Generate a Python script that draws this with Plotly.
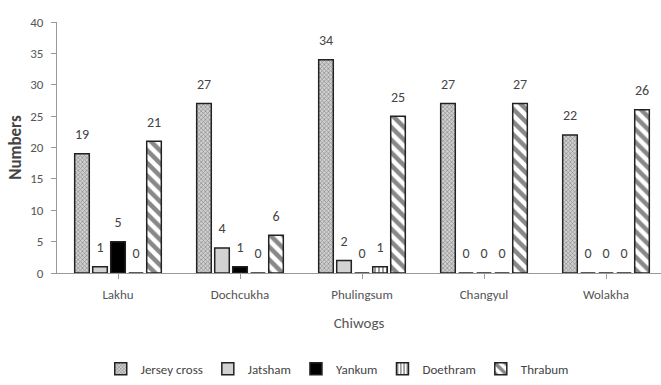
import plotly.graph_objects as go

chiwogs = ["Lakhu", "Dochcukha", "Phulingsum", "Changyul", "Wolakha"]
jersey_cross = [19, 27, 34, 27, 22]
jatsham = [1, 4, 2, 0, 0]
yankum = [5, 1, 0, 0, 0]
doethram = [0, 0, 1, 0, 0]
thrabum = [21, 6, 25, 27, 26]
y_ticks = [0, 5, 10, 15, 20, 25, 30, 35, 40]

FONT = "Carlito, Lato, sans-serif"
LABEL_LIFT = 1.2  # gap (data units) between bar top and its value label

series = [
    ("Jersey cross", jersey_cross, dict(color="#cccccc", pattern=dict(shape="x", size=3, solidity=0.4, fgcolor="#444", bgcolor="#d0d0d0"))),
    ("Jatsham", jatsham, dict(color="#d2d2d2")),
    ("Yankum", yankum, dict(color="#000000")),
    ("Doethram", doethram, dict(color="#ffffff", pattern=dict(shape="|", size=4, solidity=0.45, fgcolor="#222", bgcolor="#ffffff"))),
    ("Thrabum", thrabum, dict(color="#ffffff", pattern=dict(shape="\\", size=9, solidity=0.5, fgcolor="#111", bgcolor="#ffffff"))),
]

fig = go.Figure()
for i, (name, vals, mk) in enumerate(series):
    mk = dict(mk)
    mk["line"] = dict(color="#222", width=1.5)
    fig.add_trace(go.Bar(
        name=name, x=chiwogs, y=vals, marker=mk, offsetgroup=str(i),
        textposition="none",
    ))
    # invisible spacer bar on top of each bar, carrying the value label
    fig.add_trace(go.Bar(
        name=name, x=chiwogs, y=[LABEL_LIFT] * len(vals), base=vals,
        offsetgroup=str(i), showlegend=False, hoverinfo="skip",
        marker=dict(color="rgba(0,0,0,0)", line=dict(width=0)),
        text=[str(v) for v in vals], textposition="outside",
        textfont=dict(family=FONT, size=14, color="#444"),
        cliponaxis=False,
    ))

fig.update_layout(
    width=661, height=385,
    margin=dict(l=57, r=0, t=22, b=112),
    paper_bgcolor="white", plot_bgcolor="white",
    barmode="group", bargap=0.262, bargroupgap=0.19,
    font=dict(family=FONT, size=13, color="#555"),
    showlegend=True,
    legend=dict(orientation="h", x=0.464, xanchor="center", y=-0.382, yanchor="middle",
                font=dict(family=FONT, size=13, color="#444"),
                itemwidth=30, tracegroupgap=0),
    xaxis=dict(range=[-0.5, -0.5 + 604 / 122], showline=True, linecolor="#999", linewidth=1,
               ticks="outside", ticklen=5, tickcolor="#999", automargin=False,
               ticklabelstandoff=4,
               title=dict(text="Chiwogs", font=dict(family=FONT, size=15, color="#555"), standoff=16),
               tickfont=dict(family=FONT, size=13, color="#555"), showgrid=False),
    yaxis=dict(range=[0, 40], tickvals=y_ticks, showline=True, linecolor="#999", linewidth=1,
               ticks="outside", ticklen=5, tickcolor="#999", showgrid=False, zeroline=False,
               automargin=False, ticklabelstandoff=5,
               title=dict(text="<b>Numbers</b>", font=dict(family=FONT, size=17, color="#444"), standoff=4),
               tickfont=dict(family=FONT, size=13, color="#555")),
)

fig.write_html("out.html", config={"displayModeBar": False},
               post_script="document.body.style.margin='0';")
